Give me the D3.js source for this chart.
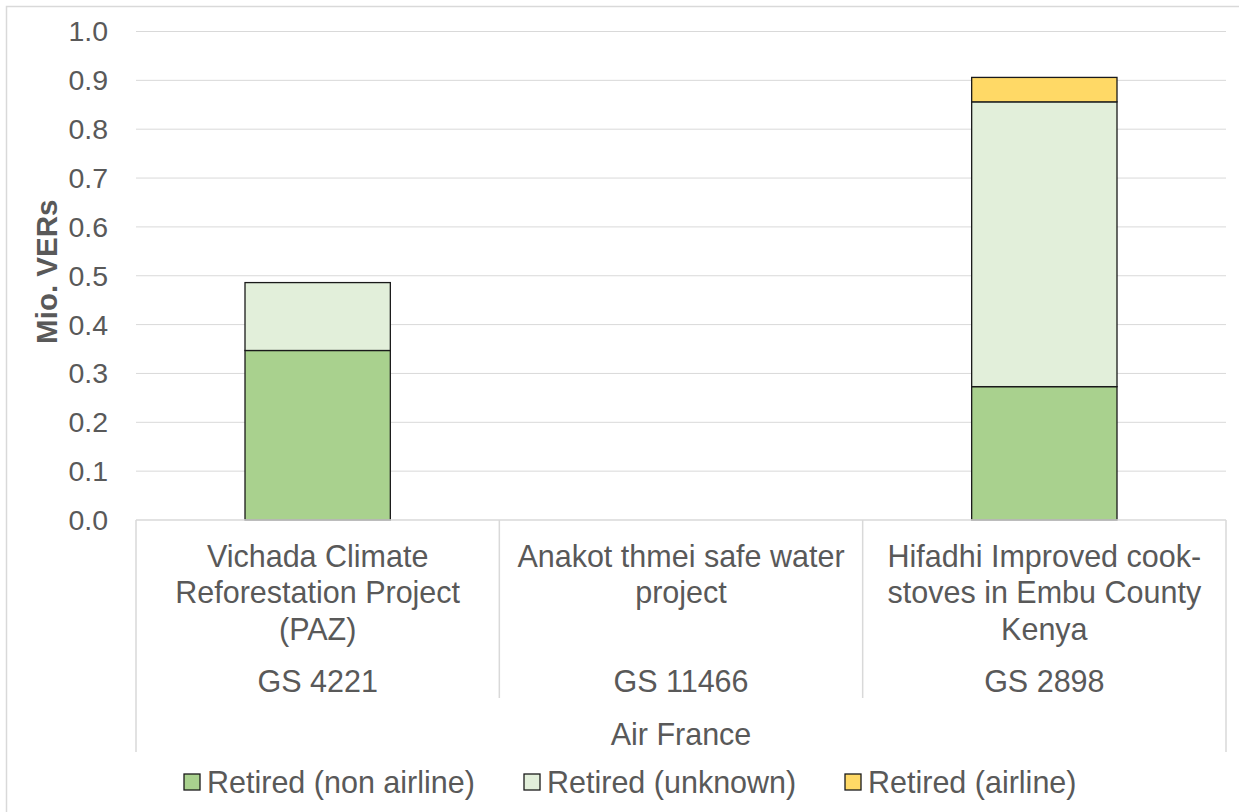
<!DOCTYPE html>
<html>
<head>
<meta charset="utf-8">
<script src="https://cdn.jsdelivr.net/npm/d3@7"></script>
<style>
  body { margin: 0; background: #fff; }
  text { font-family: "Liberation Sans", Arial, sans-serif; fill: #595959; }
</style>
</head>
<body>
<div id="chart"></div>
<script>
// stacked retirements per project (Mio. VERs)
const projects = ["Vichada", "Anakot", "Hifadhi"];
const projectLines = [
  ["Vichada Climate", "Reforestation Project", "(PAZ)"],
  ["Anakot thmei safe water", "project"],
  ["Hifadhi Improved cook-", "stoves in Embu County", "Kenya"]
];
const gsCodes = ["GS 4221", "GS 11466", "GS 2898"];
const airlineName = "Air France";

const seriesNames = ["Retired (non airline)", "Retired (unknown)", "Retired (airline)"];
const nonAirline = [0.347, 0, 0.273];
const unknown = [0.139, 0, 0.583];
const airline = [0, 0, 0.050];
const yTicks = [0, 0.1, 0.2, 0.3, 0.4, 0.5, 0.6, 0.7, 0.8, 0.9, 1.0];

const W = 1239, H = 812;
const plotLeft = 136, plotRight = 1226, plotTop = 31.5, plotBottom = 520;
const tickSize = 28.5, labelSize = 30.5;

const svg = d3.select("#chart").append("svg")
  .attr("width", W)
  .attr("height", H);

// outer chart border (only top/left inside the window)
svg.append("rect")
  .attr("x", 6.5).attr("y", 6.5)
  .attr("width", W + 20).attr("height", H + 20)
  .attr("fill", "none")
  .attr("stroke", "#d9d9d9")
  .attr("stroke-width", 1.5);

const x = d3.scaleBand().domain(projects).range([plotLeft, plotRight]).padding(0);
const y = d3.scaleLinear().domain([0, 1]).range([plotBottom, plotTop]);
const colour = d3.scaleOrdinal().domain(seriesNames).range(["#A9D18E", "#E2EFDA", "#FFD966"]);

// gridlines
svg.append("g")
  .selectAll("line")
  .data(yTicks.filter(d => d > 0))
  .enter().append("line")
    .attr("x1", plotLeft).attr("x2", plotRight)
    .attr("y1", d => y(d)).attr("y2", d => y(d))
    .attr("stroke", "#d9d9d9")
    .attr("stroke-width", 1);

// y tick labels
svg.append("g")
  .selectAll("text")
  .data(yTicks)
  .enter().append("text")
    .attr("x", 108)
    .attr("y", d => y(d))
    .attr("dy", "0.35em")
    .attr("text-anchor", "end")
    .style("font-size", tickSize + "px")
    .text(d => d3.format(".1f")(d));

// y axis title
svg.append("text")
  .attr("transform", `translate(47,${(plotTop + plotBottom) / 2 - 4}) rotate(-90)`)
  .attr("dy", "0.35em")
  .attr("text-anchor", "middle")
  .style("font-size", "29.5px")
  .style("font-weight", "bold")
  .text("Mio. VERs");

// stacked bars
const table = projects.map((p, i) => ({
  project: p,
  [seriesNames[0]]: nonAirline[i],
  [seriesNames[1]]: unknown[i],
  [seriesNames[2]]: airline[i]
}));
const stacked = d3.stack().keys(seriesNames)(table);
const barW = x.bandwidth() * 0.4;

svg.append("g")
  .selectAll("g")
  .data(stacked)
  .enter().append("g")
    .attr("fill", d => colour(d.key))
  .selectAll("rect")
  .data(d => d.filter(v => v[1] - v[0] > 0))
  .enter().append("rect")
    .attr("x", d => x(d.data.project) + (x.bandwidth() - barW) / 2)
    .attr("y", d => y(d[1]))
    .attr("width", barW)
    .attr("height", d => y(d[0]) - y(d[1]))
    .attr("stroke", "#1a1a1a")
    .attr("stroke-width", 1.3);

// multi-level category axis
const axisG = svg.append("g");
const lineCol = "#d9d9d9";
axisG.append("line")
  .attr("x1", plotLeft).attr("x2", plotRight)
  .attr("y1", plotBottom).attr("y2", plotBottom)
  .attr("stroke", lineCol).attr("stroke-width", 1.5);
[plotLeft, plotRight].forEach(v => {
  axisG.append("line")
    .attr("x1", v).attr("x2", v)
    .attr("y1", plotBottom).attr("y2", 752)
    .attr("stroke", lineCol).attr("stroke-width", 1.5);
});
projects.slice(1).forEach(p => {
  axisG.append("line")
    .attr("x1", x(p)).attr("x2", x(p))
    .attr("y1", plotBottom).attr("y2", 698)
    .attr("stroke", lineCol).attr("stroke-width", 1.5);
});

projects.forEach((p, i) => {
  const cx = x(p) + x.bandwidth() / 2;
  projectLines[i].forEach((ln, j) => {
    axisG.append("text")
      .attr("x", cx)
      .attr("y", 556 + j * 36.5)
      .attr("dy", "0.35em")
      .attr("text-anchor", "middle")
      .style("font-size", labelSize + "px")
      .text(ln);
  });
  axisG.append("text")
    .attr("x", cx)
    .attr("y", 681)
    .attr("dy", "0.35em")
    .attr("text-anchor", "middle")
    .style("font-size", labelSize + "px")
    .text(gsCodes[i]);
});

axisG.append("text")
  .attr("x", (plotLeft + plotRight) / 2)
  .attr("y", 734)
  .attr("dy", "0.35em")
  .attr("text-anchor", "middle")
  .style("font-size", labelSize + "px")
  .text(airlineName);

// legend
const legendX = [184, 524, 845];
const legend = svg.append("g")
  .selectAll("g")
  .data(seriesNames)
  .enter().append("g")
    .attr("transform", (d, i) => `translate(${legendX[i]},782)`);
legend.append("rect")
  .attr("x", 0).attr("y", -8)
  .attr("width", 16).attr("height", 16)
  .attr("fill", d => colour(d))
  .attr("stroke", "#1a1a1a")
  .attr("stroke-width", 1.3);
legend.append("text")
  .attr("x", 23)
  .attr("y", 0)
  .attr("dy", "0.35em")
  .style("font-size", labelSize + "px")
  .text(d => d);
</script>
</body>
</html>
